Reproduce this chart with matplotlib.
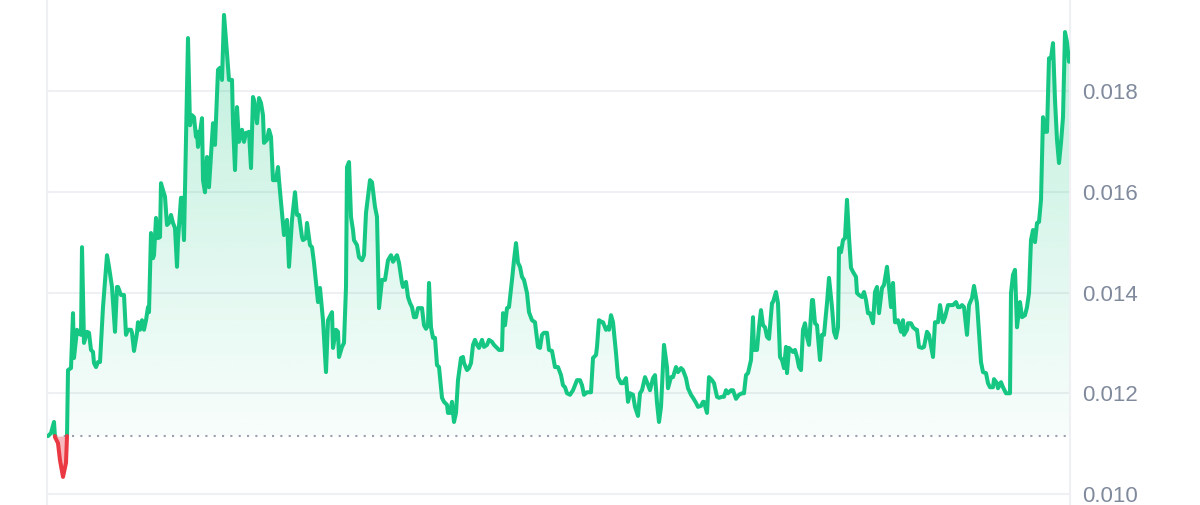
import matplotlib.pyplot as plt
import matplotlib.colors as mcolors
import numpy as np

# price history (hour index, price in USD)
hours_a = [0, 3, 6, 7, 10, 12, 15, 18, 19, 20, 23, 25, 26, 29, 30, 33, 34, 36, 39, 41,
           43, 45, 46, 48, 50, 52, 55, 59, 61, 64, 67, 69, 70, 73, 76, 78, 80, 83, 84, 86,
           89, 90, 92, 94, 96, 98, 100, 101, 103, 105, 106, 108, 110, 112, 113, 115, 117, 119, 121, 123,
           125, 127, 129, 130, 133, 134, 136, 140, 142, 144, 146, 148, 149, 150, 152, 154, 155, 157, 159, 161,
           165, 167, 170, 172, 174, 176]
price_a = [0.01115, 0.01121, 0.01143, 0.01113, 0.01101, 0.01067, 0.01034, 0.01062, 0.01113, 0.01246,
           0.01250, 0.01359, 0.01270, 0.01326, 0.01320, 0.01316, 0.01490, 0.01300, 0.01322, 0.01320,
           0.01286, 0.01282, 0.01260, 0.01252, 0.01262, 0.01262, 0.01371, 0.01474, 0.01451, 0.01411,
           0.01322, 0.01411, 0.01411, 0.01395, 0.01395, 0.01316, 0.01326, 0.01326, 0.01320, 0.01284,
           0.01320, 0.01341, 0.01326, 0.01345, 0.01326, 0.01345, 0.01371, 0.01361, 0.01518, 0.01468,
           0.01474, 0.01548, 0.01508, 0.01510, 0.01617, 0.01603, 0.01590, 0.01534, 0.01538, 0.01554,
           0.01538, 0.01528, 0.01451, 0.01504, 0.01588, 0.01588, 0.01504, 0.01905, 0.01732, 0.01752,
           0.01748, 0.01709, 0.01719, 0.01689, 0.01717, 0.01746, 0.01623, 0.01599, 0.01669, 0.01609,
           0.01736, 0.01693, 0.01842, 0.01846, 0.01822, 0.01951]

hours_b = [178, 181, 184, 185, 187, 189, 191, 194, 196, 198, 200, 201, 203, 205, 206, 209, 211, 213, 215, 216,
           219, 221, 223, 225, 228, 230, 231, 234, 236, 239, 241, 244, 247, 249, 251, 254, 255, 258, 259, 262,
           264, 266, 270, 272, 275, 278, 280, 284, 285, 288, 290, 291, 294, 296, 298, 299, 301, 303, 305, 306,
           309, 311, 314, 316, 318, 320, 322, 324, 327, 329, 331, 334, 337, 340, 343]
price_b = [0.01901, 0.01822, 0.01822, 0.01736, 0.01643, 0.01768, 0.01699, 0.01723, 0.01699, 0.01717,
           0.01717, 0.01719, 0.01647, 0.01788, 0.01782, 0.01736, 0.01786, 0.01776, 0.01752, 0.01697,
           0.01703, 0.01723, 0.01709, 0.01623, 0.01623, 0.01649, 0.01623, 0.01558, 0.01514, 0.01544,
           0.01451, 0.01544, 0.01599, 0.01554, 0.01554, 0.01510, 0.01504, 0.01508, 0.01538, 0.01494,
           0.01490, 0.01459, 0.01381, 0.01409, 0.01345, 0.01242, 0.01345, 0.01361, 0.01290, 0.01326,
           0.01322, 0.01272, 0.01292, 0.01300, 0.01411, 0.01649, 0.01659, 0.01550, 0.01524, 0.01504,
           0.01494, 0.01470, 0.01464, 0.01474, 0.01558, 0.01590, 0.01623, 0.01619, 0.01570, 0.01550,
           0.01369, 0.01425, 0.01425, 0.01464, 0.01474]

hours_c = [345, 347, 349, 351, 354, 355, 358, 360, 362, 364, 366, 368, 370, 374, 376, 378, 380, 381, 383, 385,
           387, 389, 391, 394, 396, 399, 400, 402, 404, 406, 408, 410, 413, 415, 416, 419, 421, 423, 425, 427,
           429, 431, 434, 436, 439, 441, 444, 446, 449, 451, 454, 455, 457, 459, 461, 464, 466, 468, 470, 472,
           474, 476, 479, 481, 484, 487, 490, 492, 494, 496, 499, 501, 504, 507, 510, 513, 515]
price_c = [0.01461, 0.01468, 0.01474, 0.01459, 0.01419, 0.01411, 0.01421, 0.01391, 0.01379, 0.01371,
           0.01351, 0.01351, 0.01369, 0.01369, 0.01335, 0.01328, 0.01335, 0.01419, 0.01331, 0.01310,
           0.01310, 0.01256, 0.01252, 0.01191, 0.01183, 0.01177, 0.01161, 0.01161, 0.01183, 0.01143,
           0.01161, 0.01226, 0.01270, 0.01272, 0.01260, 0.01246, 0.01250, 0.01260, 0.01296, 0.01306,
           0.01296, 0.01290, 0.01306, 0.01292, 0.01296, 0.01306, 0.01302, 0.01296, 0.01290, 0.01286,
           0.01286, 0.01359, 0.01335, 0.01369, 0.01371, 0.01425, 0.01464, 0.01498, 0.01459, 0.01451,
           0.01431, 0.01425, 0.01399, 0.01361, 0.01345, 0.01341, 0.01292, 0.01290, 0.01316, 0.01320,
           0.01320, 0.01286, 0.01284, 0.01252, 0.01252, 0.01236, 0.01216]

hours_d = [517, 519, 522, 525, 529, 532, 534, 536, 539, 543, 545, 548, 549, 551, 554, 555, 558, 560, 561, 563,
           565, 568, 570, 573, 575, 578, 580, 582, 585, 587, 590, 592, 594, 597, 599, 602, 605, 607, 609, 611,
           613, 616, 619, 620, 623, 625, 628, 630, 633, 635, 638, 640, 643, 645, 648, 650, 653, 655, 656, 659,
           661, 664, 666, 669, 671, 674, 676, 678, 680, 683]
price_d = [0.01212, 0.01200, 0.01197, 0.01206, 0.01226, 0.01226, 0.01216, 0.01197, 0.01202, 0.01202,
           0.01270, 0.01276, 0.01292, 0.01345, 0.01341, 0.01341, 0.01326, 0.01331, 0.01326, 0.01355,
           0.01341, 0.01280, 0.01232, 0.01220, 0.01220, 0.01230, 0.01183, 0.01200, 0.01197, 0.01173,
           0.01155, 0.01200, 0.01206, 0.01232, 0.01222, 0.01206, 0.01230, 0.01236, 0.01181, 0.01143,
           0.01173, 0.01296, 0.01252, 0.01210, 0.01232, 0.01232, 0.01252, 0.01242, 0.01250, 0.01246,
           0.01230, 0.01210, 0.01197, 0.01191, 0.01181, 0.01173, 0.01175, 0.01183, 0.01183, 0.01161,
           0.01232, 0.01226, 0.01220, 0.01193, 0.01191, 0.01193, 0.01193, 0.01206, 0.01200, 0.01206]

hours_e = [685, 688, 691, 694, 696, 698, 700, 703, 705, 706, 709, 711, 713, 715, 717, 719, 721, 724, 725, 728,
           730, 732, 734, 736, 738, 739, 741, 743, 745, 747, 749, 751, 753, 755, 757, 759, 761, 764, 765, 767,
           769, 772, 774, 776, 779, 781, 784, 786, 788, 790, 791, 793, 795, 797, 799, 801, 803, 805, 808, 809,
           811, 814, 816, 818, 820, 822, 825, 827, 829, 831, 834, 836, 839, 841, 843, 845, 847, 849, 850, 853]
price_e = [0.01206, 0.01189, 0.01197, 0.01200, 0.01200, 0.01236, 0.01240, 0.01266, 0.01351, 0.01286,
           0.01286, 0.01331, 0.01365, 0.01335, 0.01331, 0.01312, 0.01308, 0.01379, 0.01381, 0.01401,
           0.01379, 0.01272, 0.01266, 0.01250, 0.01292, 0.01240, 0.01290, 0.01286, 0.01282, 0.01286,
           0.01272, 0.01252, 0.01246, 0.01326, 0.01339, 0.01312, 0.01296, 0.01385, 0.01385, 0.01339,
           0.01335, 0.01266, 0.01316, 0.01316, 0.01379, 0.01429, 0.01371, 0.01322, 0.01310, 0.01331,
           0.01488, 0.01480, 0.01504, 0.01508, 0.01584, 0.01510, 0.01449, 0.01441, 0.01431, 0.01399,
           0.01395, 0.01391, 0.01401, 0.01385, 0.01359, 0.01359, 0.01339, 0.01401, 0.01411, 0.01359,
           0.01409, 0.01415, 0.01451, 0.01411, 0.01371, 0.01419, 0.01341, 0.01341, 0.01345, 0.01322]

hours_f = [855, 856, 859, 860, 863, 865, 868, 869, 871, 874, 876, 879, 881, 885, 887, 890, 892, 895, 897, 900,
           902, 905, 908, 910, 912, 914, 916, 919, 921, 924, 926, 929, 931, 933, 935, 938, 940, 942, 945, 946,
           949, 950, 953, 955, 958, 960, 962, 963, 965, 967, 969, 972, 974, 977, 979, 981, 983, 985, 987, 989,
           991, 993, 995, 997, 999, 1001, 1003, 1005, 1007, 1009, 1011, 1013, 1015, 1017, 1019, 1021]
price_f = [0.01345, 0.01316, 0.01326, 0.01339, 0.01339, 0.01331, 0.01326, 0.01326, 0.01292, 0.01290,
           0.01292, 0.01322, 0.01316, 0.01272, 0.01341, 0.01341, 0.01375, 0.01341, 0.01351, 0.01375,
           0.01375, 0.01375, 0.01381, 0.01371, 0.01371, 0.01375, 0.01371, 0.01316, 0.01375, 0.01389,
           0.01413, 0.01379, 0.01320, 0.01262, 0.01242, 0.01240, 0.01220, 0.01212, 0.01212, 0.01228,
           0.01220, 0.01210, 0.01222, 0.01212, 0.01200, 0.01200, 0.01200, 0.01399, 0.01435, 0.01445,
           0.01331, 0.01381, 0.01351, 0.01355, 0.01371, 0.01399, 0.01504, 0.01524, 0.01500, 0.01538,
           0.01540, 0.01584, 0.01748, 0.01719, 0.01719, 0.01865, 0.01865, 0.01895, 0.01782, 0.01703,
           0.01657, 0.01697, 0.01748, 0.01917, 0.01897, 0.01858]

y_ticks = [0.010, 0.012, 0.014, 0.016, 0.018]

hours = np.array(hours_a + hours_b + hours_c + hours_d + hours_e + hours_f, dtype=float)
price = np.array(price_a + price_b + price_c + price_d + price_e + price_f)
base = price[0]

green = '#16c784'
red = '#ea3943'

# add the points where the line crosses the opening price
t_all, p_all = [hours[0]], [price[0]]
for i in range(1, len(hours)):
    p0, p1 = price[i - 1], price[i]
    if (p0 - base) * (p1 - base) < 0:
        tc = hours[i - 1] + (base - p0) / (p1 - p0) * (hours[i] - hours[i - 1])
        t_all.append(tc)
        p_all.append(base)
    t_all.append(hours[i])
    p_all.append(p1)
t_all = np.array(t_all)
p_all = np.array(p_all)

fig = plt.figure(figsize=(12, 5.05), dpi=100)
ax = fig.add_axes([47 / 1200, 0, 1023 / 1200, 1])

# gradient fill above the opening price
fill = ax.fill_between(t_all, np.maximum(p_all, base), base, color='none', lw=0)
g = mcolors.to_rgb(green)
cmap = mcolors.LinearSegmentedColormap.from_list('fade', [(*g, 0.03), (*g, 0.28)])
grad = np.linspace(0, 1, 256).reshape(-1, 1)
im = ax.imshow(grad, cmap=cmap, aspect='auto', origin='lower',
               extent=[t_all[0], t_all[-1], base, price.max()], zorder=1)
im.set_clip_path(fill.get_paths()[0], transform=ax.transData)

ax.fill_between(t_all, np.minimum(p_all, base), base, color=red, alpha=0.35, lw=0, zorder=1)

ax.axhline(base, color='#9aa0ad', lw=1.5, ls=(0, (1, 3)), zorder=2)

up = np.where(p_all >= base, p_all, np.nan)
down = np.where(p_all <= base, p_all, np.nan)
ax.plot(t_all, up, color=green, lw=2.9, solid_joinstyle='round', solid_capstyle='round', zorder=3)
ax.plot(t_all, down, color=red, lw=2.9, solid_joinstyle='round', solid_capstyle='round', zorder=3)

ax.set_xlim(-1, 1022)
ax.set_ylim(0.009782, 0.019806)
ax.set_xticks([])
ax.set_yticks(y_ticks)
ax.set_yticklabels([f'{v:.3f}' for v in y_ticks])
ax.yaxis.tick_right()
ax.tick_params(axis='y', length=0, pad=9, labelsize=16, labelcolor='#808a9d')
for lab in ax.get_yticklabels():
    lab.set_fontfamily('Liberation Sans')
ax.grid(axis='y', color='#eff0f3', lw=1.5, zorder=0)
ax.set_axisbelow(True)
for side in ['top', 'bottom']:
    ax.spines[side].set_visible(False)
for side in ['left', 'right']:
    ax.spines[side].set_color('#eff0f3')
    ax.spines[side].set_linewidth(1.5)

fig.savefig('out.png', dpi=100)
